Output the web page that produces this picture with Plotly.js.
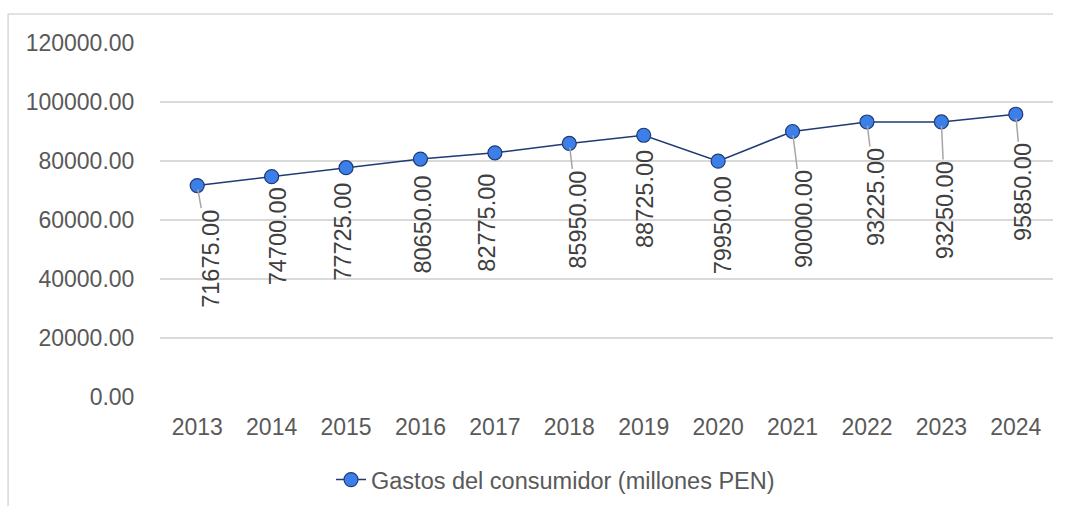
<!DOCTYPE html>
<html>
<head>
<meta charset="utf-8">
<script src="https://cdn.plot.ly/plotly-3.0.1.min.js"></script>
<style>html,body{margin:0;padding:0;background:#fff;}#chart{width:1068px;height:506px;}</style>
</head>
<body>
<div id="chart"></div>
<script>
// ---- data ----
const years = ["2013","2014","2015","2016","2017","2018","2019","2020","2021","2022","2023","2024"];
const gastos = [71675, 74700, 77725, 80650, 82775, 85950, 88725, 79950, 90000, 93225, 93250, 95850];
const seriesName = "Gastos del consumidor (millones PEN)";
const yTickVals = [0, 20000, 40000, 60000, 80000, 100000, 120000];

// ---- label placement (pixel offsets of label centre from point) ----
const labelDx = [13, 6, -3, 3, -8, 9, 2, 5, 11, 9, 4, 7];
const labelDy = [73, 60, 64, 65, 70, 76, 64, 64, 88, 75, 88, 78];
const showLeader = [true, false, false, false, false, true, false, false, true, true, true, true];

const FONT = "Liberation Sans, Arial, sans-serif";

const annotations = years.map((y, i) => ({
  x: i, y: gastos[i], xref: "x", yref: "y",
  text: gastos[i].toFixed(2),
  textangle: -90,
  showarrow: true, arrowhead: 0, arrowwidth: 1.5,
  arrowcolor: showLeader[i] ? "#a6a6a6" : "rgba(0,0,0,0)",
  ax: labelDx[i], ay: labelDy[i], standoff: 4,
  font: {family: FONT, size: 23.5, color: "#404040"}
}));

const trace = {
  x: years, y: gastos, type: "scatter", mode: "lines+markers",
  name: seriesName,
  line: {color: "#1f3a75", width: 1.5},
  marker: {size: 14, color: "#3d7fe8", line: {color: "#1f3a75", width: 1.2}}
};

const layout = {
  width: 1068, height: 506,
  margin: {l: 160, r: 14.5, t: 43, b: 109, autoexpand: false},
  paper_bgcolor: "#fff", plot_bgcolor: "#fff",
  font: {family: FONT, size: 23, color: "#595959"},
  xaxis: {
    type: "category", categoryarray: years, categoryorder: "array",
    range: [-0.5, years.length - 0.5], autorange: false,
    showgrid: false, zeroline: false, showline: false,
    ticks: "outside", ticklen: 9, tickcolor: "rgba(0,0,0,0)",
    tickfont: {family: FONT, size: 23, color: "#595959"}
  },
  yaxis: {
    range: [0, 120000], autorange: false, tickvals: yTickVals, tickformat: ".2f",
    showgrid: true, gridcolor: "#d9d9d9", gridwidth: 1.5,
    zeroline: false, showline: false,
    ticks: "outside", ticklen: 20, tickcolor: "rgba(0,0,0,0)",
    tickfont: {family: FONT, size: 23, color: "#595959"}
  },
  showlegend: true,
  legend: {
    orientation: "h", x: 0.1915, xanchor: "left", y: -0.234, yanchor: "middle",
    font: {family: FONT, size: 23.5, color: "#595959"}, bgcolor: "rgba(0,0,0,0)"
  },
  annotations: annotations,
  shapes: [
    {type: "line", xref: "paper", yref: "paper", x0: -0.1701, x1: 1.0, y0: 1.0819, y1: 1.0819, line: {color: "#d9d9d9", width: 1.5}},
    {type: "line", xref: "paper", yref: "paper", x0: -0.1701, x1: -0.1701, y0: 1.0819, y1: -0.31, line: {color: "#d9d9d9", width: 1.5}}
  ]
};

Plotly.newPlot("chart", [trace], layout, {displayModeBar: false, staticPlot: true});
</script>
</body>
</html>
